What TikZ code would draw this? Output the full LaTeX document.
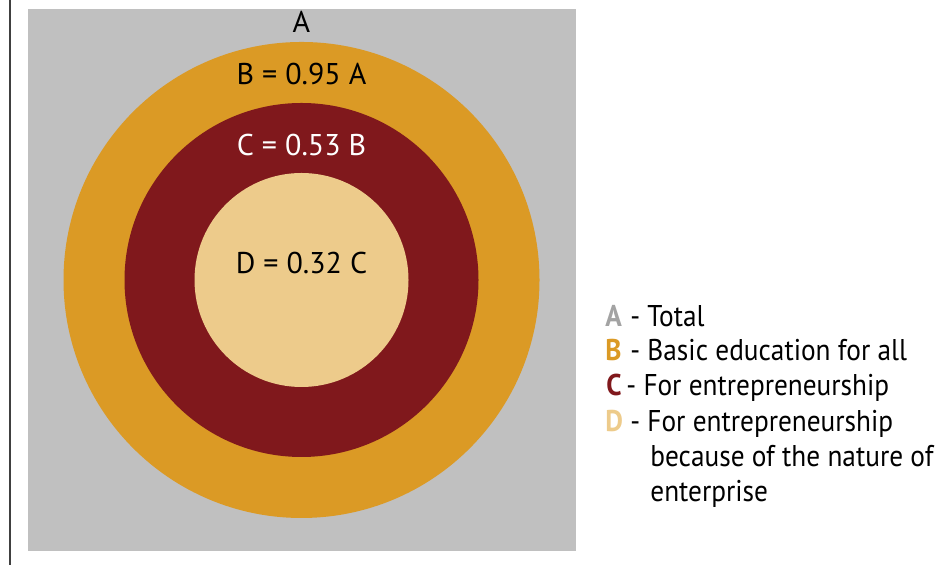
\documentclass[tikz,border=0pt]{standalone}
\usepackage{fontspec}
\setmainfont{PT Sans}
\newfontfamily\keyfont{PT Sans}[FakeStretch=0.91]
\definecolor{totalgray}{HTML}{C0C0C0}
\definecolor{keygray}{HTML}{A3A3A3}
\definecolor{basicorange}{HTML}{DB9A25}
\definecolor{entrered}{HTML}{80181C}
\definecolor{naturesand}{HTML}{EDCB8B}
\definecolor{rulegray}{HTML}{404040}
\tikzset{
  ringlabel/.style={anchor=base, inner sep=0pt, font=\fontsize{15}{18}\selectfont},
  keyletter/.style={anchor=base west, inner sep=0pt, font=\keyfont\fontsize{15}{18}\selectfont\bfseries},
  keytext/.style={anchor=base west, inner sep=0pt, font=\keyfont\fontsize{15}{18}\selectfont}
}
\begin{document}
\begin{tikzpicture}[x=0.5pt, y=0.5pt]
    \useasboundingbox (0,0) rectangle (952,565);

    % Thin rule on the left edge
    \draw[line width=1pt, rulegray] (9.5,0) -- (9.5,565);

    % Gray square for the total A
    \fill[totalgray] (28,14) rectangle (576,556);

    % --- Nested discs B, C, D ---
    \fill[basicorange] (301.5,285) circle[radius=238];
    \fill[entrered]    (301.5,285) circle[radius=177];
    \fill[naturesand]  (301.5,285) circle[radius=107];

    % Ring labels
    \node[ringlabel] (labA) at (301.5,532) {A};
    \node[ringlabel] (labB) at (301.5,480) {B = 0.95 A};
    \node[ringlabel, white] (labC) at (301.5,409) {C = 0.53 B};
    \node[ringlabel] (labD) at (301.5,291) {D = 0.32 C};

    % Key on the right
    \node[keyletter, keygray]     (keyA) at (605,238) {A};
    \node[keyletter, basicorange] (keyB) at (605,204) {B};
    \node[keyletter, entrered]    (keyC) at (606,169) {C};
    \node[keyletter, naturesand]  (keyD) at (605,133) {D};
    \node[keytext] (txtA) at (630,238) {- Total};
    \node[keytext] (txtB) at (630,204) {- Basic education for all};
    \node[keytext] (txtC) at (626,169) {- For entrepreneurship};
    \node[keytext] (txtD) at (630,133) {- For entrepreneurship};
    \node[keytext] (txtD2) at (650,98) {because of the nature of};
    \node[keytext] (txtD3) at (650,63) {enterprise};

\end{tikzpicture}
\end{document}
